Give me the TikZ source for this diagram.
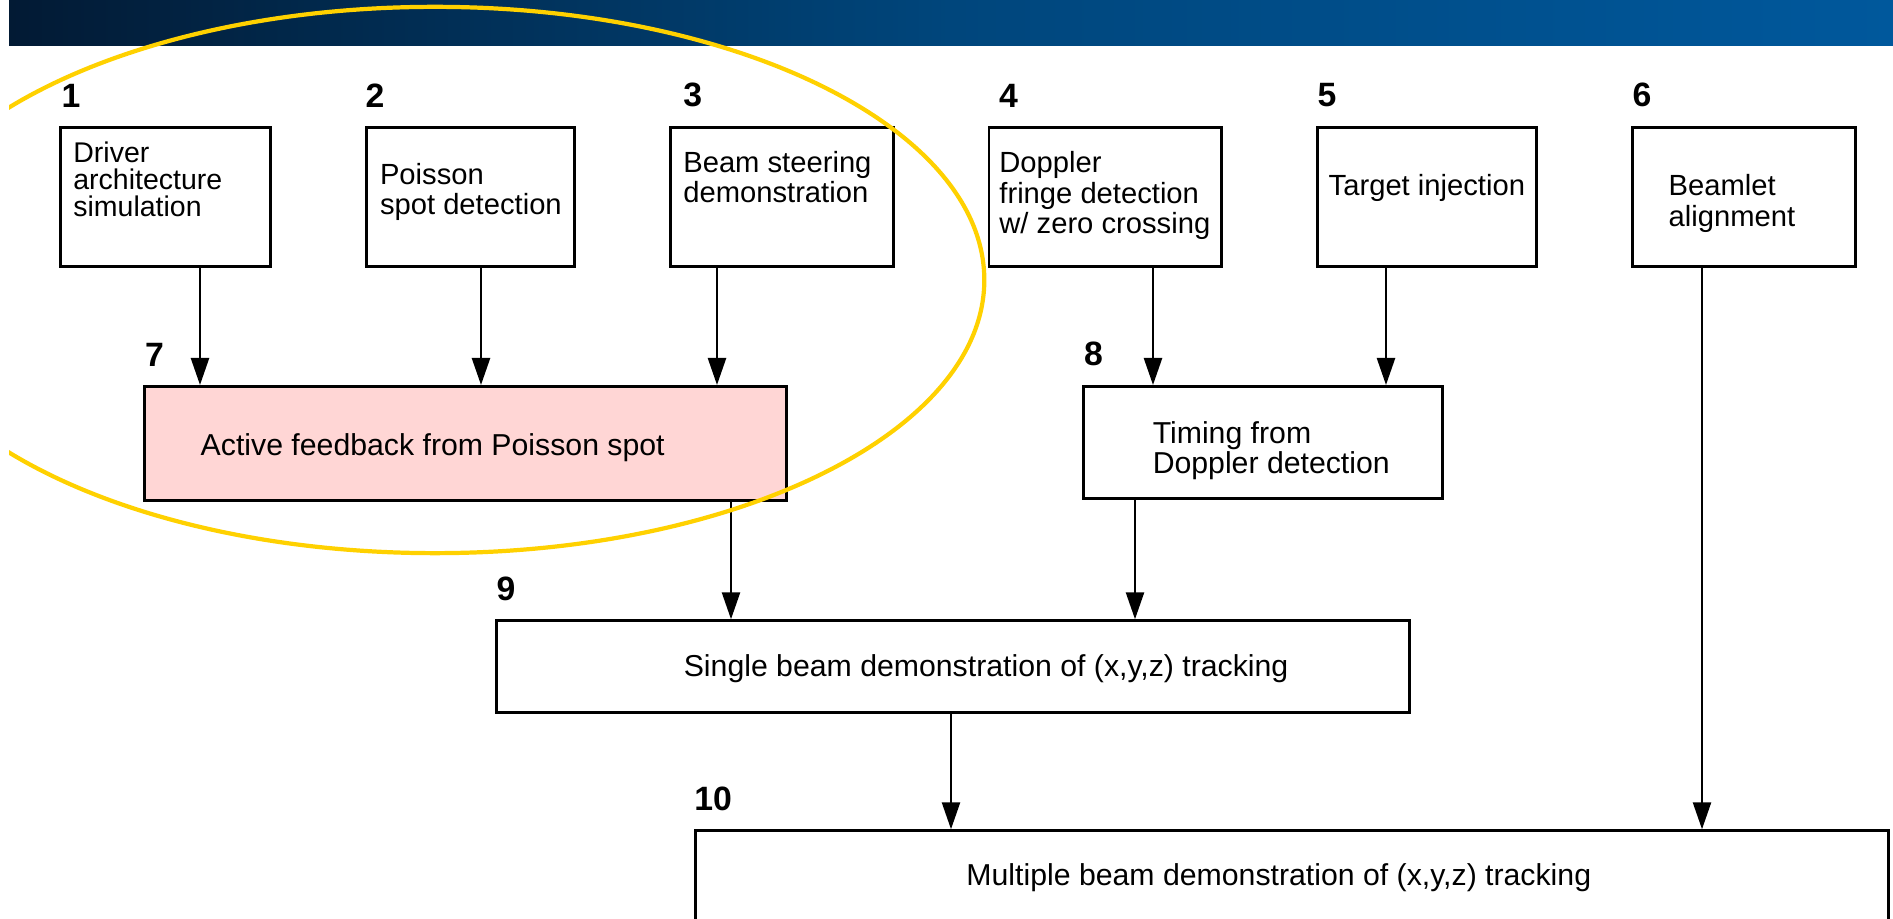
\documentclass[tikz,border=0pt]{standalone}
\usepackage{fontspec}
\setmainfont{Liberation Sans}
\usepackage{tikz}
\usetikzlibrary{arrows.meta,positioning}
\definecolor{barleft}{HTML}{021A34}
\definecolor{barmid}{HTML}{00467C}
\definecolor{barright}{HTML}{00589C}
\definecolor{ringyellow}{HTML}{FFD100}
\definecolor{softpink}{HTML}{FFD6D5}

\begin{document}
\begin{tikzpicture}[x=0.01cm,y=-0.01cm,>={Triangle[length=0.27cm,width=0.18cm]}]
\tikzstyle{box}=[draw,line width=0.85pt,anchor=north west,inner sep=0pt,minimum height=1.39cm]
\tikzstyle{txt}=[align=left,inner sep=0pt,font=\fontsize{8.3}{8.6}\selectfont]
\tikzstyle{txtb}=[txt,font=\fontsize{8.6}{8.6}\selectfont]
\tikzstyle{num}=[inner sep=0pt,font=\fontsize{9.6}{11}\selectfont\bfseries]
\tikzstyle{arr}=[->,line width=0.7pt]
\useasboundingbox (0,0) rectangle (1893,919);
\clip (0,0) rectangle (1893,919);
% title bar
\fill[left color=barleft,right color=barright,middle color=barmid] (9,0) rectangle (1893,45.7);
% top row
\node[box,minimum width=2.10cm] (b1) at (59,126) {};
\node[box,minimum width=2.08cm] (b2) at (365,126) {};
\node[box,minimum width=2.225cm] (b3) at (669,126) {};
\node[box,minimum width=2.32cm] (b4) at (987.5,126) {};
\node[box,minimum width=2.19cm] (b5) at (1315.6,126) {};
\node[box,minimum width=2.226cm] (b6) at (1631,126) {};
\node[txt,font=\fontsize{8.1}{7.7}\selectfont,below right=0.15cm and 0.137cm of b1.north west] (t1) {Driver\\architecture\\simulation};
\node[txt,below right=0.363cm and 0.143cm of b2.north west] (t2) {Poisson\\spot detection};
\node[txt,below right=0.247cm and 0.136cm of b3.north west] (t3) {Beam steering\\demonstration};
\node[txt,below right=0.25cm and 0.112cm of b4.north west] (t4) {Doppler\\fringe detection\\w/ zero crossing};
\node[txt,below right=0.48cm and 0.124cm of b5.north west] (t5) {Target injection};
\node[txt,below right=0.48cm and 0.37cm of b6.north west] (t6) {Beamlet\\alignment};
% lower rows
\node[box,minimum width=6.42cm,minimum height=1.14cm,fill=softpink] (b7) at (143,385) {};
\node[box,minimum width=3.59cm,minimum height=1.12cm] (b8) at (1082,385) {};
\node[box,minimum width=9.12cm,minimum height=0.914cm] (b9) at (495,619.3) {};
\node[box,minimum width=11.93cm,minimum height=1.3cm] (b10) at (693.6,829.3) {};
\node[txtb,below right=0.48cm and 0.57cm of b7.north west] (t7) {Active feedback from Poisson spot};
\node[txtb,below right=0.357cm and 0.70cm of b8.north west] (t8) {Timing from\\Doppler detection};
\node[txtb,below right=0.35cm and 1.88cm of b9.north west] (t9) {Single beam demonstration of (x,y,z) tracking};
\node[txtb,below right=0.34cm and 2.72cm of b10.north west] (t10) {Multiple beam demonstration of (x,y,z) tracking};
% numbers
\node[num,above right=0.18cm and 0.02cm of b1.north west] (n1) {1};
\node[num,above right=0.18cm and 0cm of b2.north west] (n2) {2};
\node[num,above right=0.18cm and 0.136cm of b3.north west] (n3) {3};
\node[num,above right=0.18cm and 0.11cm of b4.north west] (n4) {4};
\node[num,above right=0.18cm and 0.014cm of b5.north west] (n5) {5};
\node[num,above right=0.18cm and 0.01cm of b6.north west] (n6) {6};
\node[num,above right=0.18cm and 0.015cm of b7.north west] (n7) {7};
\node[num,above right=0.18cm and 0.015cm of b8.north west] (n8) {8};
\node[num,above right=0.18cm and 0.01cm of b9.north west] (n9) {9};
\node[num,above right=0.18cm and 0cm of b10.north west] (n10) {10};
% arrows
\draw[arr] (b1.south -| 200,0) -- (b7.north -| 200,0);
\draw[arr] (b2.south -| 481,0) -- (b7.north -| 481,0);
\draw[arr] (b3.south -| 717,0) -- (b7.north -| 717,0);
\draw[arr] (b4.south -| 1153,0) -- (b8.north -| 1153,0);
\draw[arr] (b5.south -| 1386,0) -- (b8.north -| 1386,0);
\draw[arr] (b7.south -| 731,0) -- (b9.north -| 731,0);
\draw[arr] (b8.south -| 1135,0) -- (b9.north -| 1135,0);
\draw[arr] (b9.south -| 951,0) -- (b10.north -| 951,0);
\draw[arr] (b6.south -| 1702,0) -- (b10.north -| 1702,0);
% yellow ring
\begin{scope}
\clip (9,0) rectangle (1893,919);
\draw[ringyellow,line width=1.2pt] (435,280) ellipse [x radius=5.49cm,y radius=2.73cm];
\end{scope}
\end{tikzpicture}
\end{document}
